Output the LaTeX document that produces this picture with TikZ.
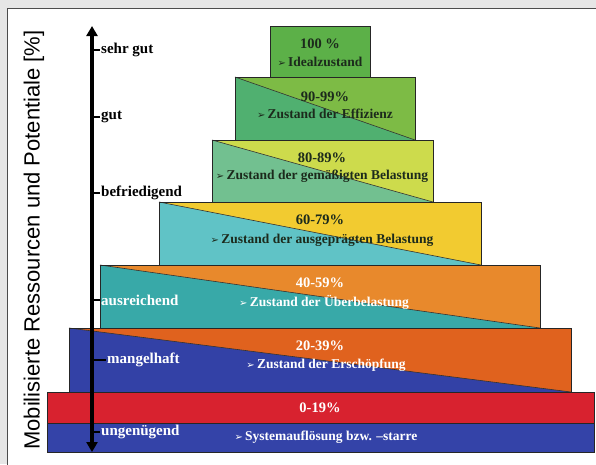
\documentclass[tikz,border=0pt]{standalone}
\usepackage{fontspec}
\setmainfont{Liberation Serif}
\newfontfamily\sansf{Liberation Sans}
\newfontfamily\dingf{DejaVu Sans}
\usetikzlibrary{arrows.meta}
\definecolor{bggray}{HTML}{E6E6E6}
\definecolor{cA}{HTML}{5CB048}
\definecolor{cBu}{HTML}{7DBB45}
\definecolor{cBl}{HTML}{50B070}
\definecolor{cCu}{HTML}{CDDB4C}
\definecolor{cCl}{HTML}{72C090}
\definecolor{cDu}{HTML}{F2CB30}
\definecolor{cDl}{HTML}{60C3C6}
\definecolor{cEu}{HTML}{E8892C}
\definecolor{cEl}{HTML}{38A9A8}
\definecolor{cFu}{HTML}{E0621E}
\definecolor{cFl}{HTML}{3341A6}
\definecolor{cG}{HTML}{D8222F}
\definecolor{cH}{HTML}{3443A8}
\definecolor{darktxt}{HTML}{1C2A1C}
\newcommand{\bul}{{\dingf\fontsize{10}{10}\selectfont ➢}\,}
\tikzset{
  lvl/.style={draw=black!85, line width=1pt},
  diag/.style={draw=black!80, line width=0.6pt},
  pct/.style={font=\bfseries\fontsize{14.5}{14.5}\selectfont, inner sep=0pt},
  sub/.style={font=\bfseries\fontsize{13.5}{13.5}\selectfont, inner sep=0pt},
  scl/.style={font=\bfseries\fontsize{15}{15}\selectfont, inner sep=0pt, anchor=west},
}
\begin{document}
\begin{tikzpicture}[x=1pt,y=-1pt]
\useasboundingbox (0,0) rectangle (596,464);
\fill[bggray] (0,0) rectangle (596,464);
\draw[fill=white, draw=black!70, line width=1pt] (7.5,8) rectangle (610,480);
% level 8 and 7
\fill[cH] (47,423) rectangle (594,452);
\draw[lvl] (47,423) rectangle (594,452);
\fill[cG] (47,392) rectangle (594,423);
\draw[lvl] (47,392) rectangle (594,423);
% level 6
\fill[cFl] (69,328) rectangle (571,392);
\fill[cFu] (69,328) -- (571,328) -- (571,392) -- cycle;
\draw[diag] (69,328) -- (571,392);
\draw[lvl] (69,328) rectangle (571,392);
% level 5
\fill[cEl] (100,265) rectangle (540,328);
\fill[cEu] (100,265) -- (540,265) -- (540,328) -- cycle;
\draw[diag] (100,265) -- (540,328);
\draw[lvl] (100,265) rectangle (540,328);
% level 4
\fill[cDl] (159,202) rectangle (481,265);
\fill[cDu] (159,202) -- (481,202) -- (481,265) -- cycle;
\draw[diag] (159,202) -- (481,265);
\draw[lvl] (159,202) rectangle (481,265);
% level 3
\fill[cCl] (212,140) rectangle (433,202);
\fill[cCu] (212,140) -- (433,140) -- (433,202) -- cycle;
\draw[diag] (212,140) -- (433,202);
\draw[lvl] (212,140) rectangle (433,202);
% level 2
\fill[cBl] (235,77) rectangle (415,140);
\fill[cBu] (235,77) -- (415,77) -- (415,140) -- cycle;
\draw[diag] (235,77) -- (415,140);
\draw[lvl] (235,77) rectangle (415,140);
% level 1
\fill[cA] (270,26) rectangle (370,77);
\draw[lvl] (270,26) rectangle (370,77);
% texts
\node[pct, text=darktxt] (p1) at (320,44) {100 \%};
\node[sub, text=darktxt] (s1) at (320,62) {\bul Idealzustand};
\node[pct, text=darktxt] (p2) at (325,97) {90-99\%};
\node[sub, text=darktxt] (s2) at (325,114) {\bul Zustand der Effizienz};
\node[pct, text=darktxt] (p3) at (322,158) {80-89\%};
\node[sub, text=darktxt] (s3) at (322,176) {\bul Zustand der gemäßigten Belastung};
\node[pct, text=darktxt] (p4) at (320,220) {60-79\%};
\node[sub, text=darktxt] (s4) at (322,240) {\bul Zustand der ausgeprägten Belastung};
\node[pct, text=white] (p5) at (320,283) {40-59\%};
\node[sub, text=white] (s5) at (324,302) {\bul Zustand der Überbelastung};
\node[pct, text=white] (p6) at (320,346) {20-39\%};
\node[sub, text=white] (s6) at (326,365) {\bul Zustand der Erschöpfung};
\node[pct, text=white] (p7) at (320,408) {0-19\%};
\node[sub, text=white] (s8) at (326,437) {\bul Systemauflösung bzw. –starre};
% axis
\coordinate (atop) at (92,26);
\coordinate (abot) at (92,452);
\draw[line width=3.5pt, {Triangle[length=10pt,width=11pt]}-{Triangle[length=10pt,width=11pt]}] (atop) -- (abot);
\foreach \yy/\nm/\lab/\col/\dx in {50/t1/sehr gut/black/0, 117/t2/gut/black/0, 193/t3/befriedigend/black/0, 300/t4/ausreichend/white/0, 360/t5/mangelhaft/white/6, 432/t6/ungenügend/white/0}{
  \draw[line width=2pt] (92,\yy) -- (100+\dx,\yy);
  \node[scl, text=\col] (\nm) at (101+\dx,\yy) {\lab};
}
\node[rotate=90, font=\sansf\fontsize{22}{22}\selectfont, inner sep=0pt] (ylab) at (34,240) {Mobilisierte Ressourcen und Potentiale [\%]};
\end{tikzpicture}
\end{document}
